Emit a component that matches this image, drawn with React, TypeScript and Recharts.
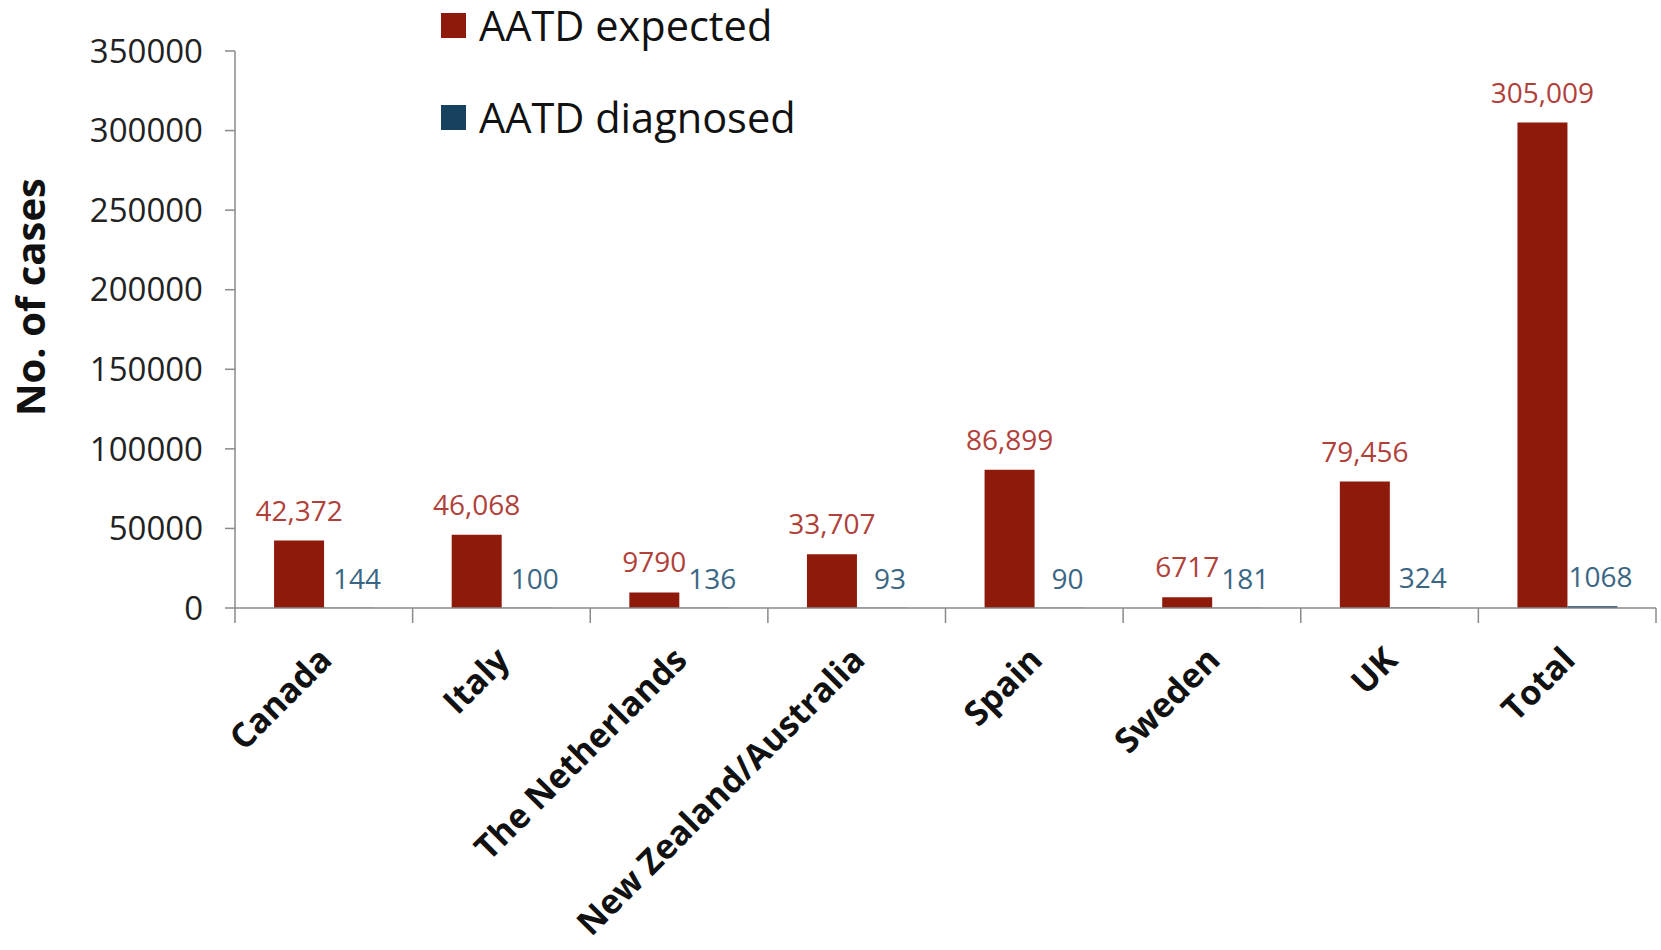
import { BarChart, Bar, XAxis, YAxis, Legend, LabelList } from "recharts";

// AATD expected vs diagnosed cases by country
const countries = [
  "Canada",
  "Italy",
  "The Netherlands",
  "New Zealand/Australia",
  "Spain",
  "Sweden",
  "UK",
  "Total",
];
const expected = [42372, 46068, 9790, 33707, 86899, 6717, 79456, 305009];
const diagnosed = [144, 100, 136, 93, 90, 181, 324, 1068];
const expectedLabels = ["42,372", "46,068", "9790", "33,707", "86,899", "6717", "79,456", "305,009"];
const yTicks = [0, 50000, 100000, 150000, 200000, 250000, 300000, 350000];

const RED = "#8e1a0b";
const RED_TEXT = "#b0413a";
const BLUE = "#17415f";
const BLUE_TEXT = "#3a6684";
const AXIS = "#8a8a8a";
const FONT = "'Open Sans', 'Noto Sans', sans-serif";

const W = 1661;
const H = 950;
const Y_AXIS_W = 235;
const RIGHT = 5;
const PLOT_W = W - Y_AXIS_W - RIGHT;

const data = countries.map((name, i) => ({
  name,
  expected: expected[i],
  diagnosed: diagnosed[i],
  expectedLabel: expectedLabels[i],
}));

function CountryTick(props: any) {
  const { x, y, payload, index } = props;
  const half = PLOT_W / countries.length / 2;
  const last = index === countries.length - 1;
  const tx = x + 10;
  const ty = y + 54;
  return (
    <g>
      <line x1={x - half} y1={y} x2={x - half} y2={y + 15} stroke={AXIS} strokeWidth={1.5} />
      {last && <line x1={x + half} y1={y} x2={x + half} y2={y + 15} stroke={AXIS} strokeWidth={1.5} />}
      <text
        x={tx}
        y={ty}
        textAnchor="end"
        transform={`rotate(-45, ${tx}, ${ty})`}
        fontFamily={FONT}
        fontWeight="bold"
        fontSize={34}
        fill="#111"
      >
        {payload.value}
      </text>
    </g>
  );
}

function LegendBox() {
  const rows = [
    { label: "AATD expected", color: RED },
    { label: "AATD diagnosed", color: BLUE },
  ];
  return (
    <div style={{ fontFamily: FONT }}>
      {rows.map((r, i) => (
        <div
          key={r.label}
          style={{
            display: "flex",
            alignItems: "center",
            height: 51,
            marginTop: i === 0 ? 0 : 41,
            whiteSpace: "nowrap",
          }}
        >
          <span style={{ width: 25, height: 25, background: r.color, display: "inline-block", marginRight: 13 }} />
          <span style={{ fontSize: 41.5, color: "#111", lineHeight: "51px" }}>{r.label}</span>
        </div>
      ))}
    </div>
  );
}

export default function App() {
  return (
    <div style={{ position: "absolute", left: 0, top: 0, width: W, height: H, background: "#fff" }}>
      <BarChart
        width={W}
        height={H}
        data={data}
        margin={{ top: 51, right: RIGHT, left: 0, bottom: 0 }}
        barCategoryGap="22%"
        barGap={0}
      >
        <XAxis
          dataKey="name"
          height={342}
          stroke={AXIS}
          strokeWidth={1.5}
          tickLine={false}
          tickSize={0}
          tickMargin={0}
          interval={0}
          tick={<CountryTick />}
        />
        <YAxis
          width={Y_AXIS_W}
          domain={[0, 350000]}
          ticks={yTicks}
          interval={0}
          stroke={AXIS}
          strokeWidth={1.5}
          tickSize={10}
          tickMargin={22}
          tick={{ fontFamily: FONT, fontSize: 33, fill: "#222" }}
          label={{
            content: () => (
              <text
                x={45}
                y={297}
                transform="rotate(-90, 45, 297)"
                textAnchor="middle"
                fontFamily={FONT}
                fontWeight="bold"
                fontSize={40}
                fill="#111"
              >
                No. of cases
              </text>
            ),
          }}
        />
        <Legend
          layout="vertical"
          align="center"
          verticalAlign="middle"
          content={<LegendBox />}
          wrapperStyle={{ top: 0, left: 441, width: 400, height: 200 }}
        />
        <Bar dataKey="expected" fill={RED} isAnimationActive={false}>
          <LabelList
            dataKey="expectedLabel"
            position="top"
            offset={20}
            fill={RED_TEXT}
            fontFamily={FONT}
            fontSize={28}
          />
        </Bar>
        <Bar dataKey="diagnosed" fill={BLUE} isAnimationActive={false}>
          <LabelList
            dataKey="diagnosed"
            position="top"
            offset={19}
            dx={8}
            fill={BLUE_TEXT}
            fontFamily={FONT}
            fontSize={28}
          />
        </Bar>
      </BarChart>
    </div>
  );
}
